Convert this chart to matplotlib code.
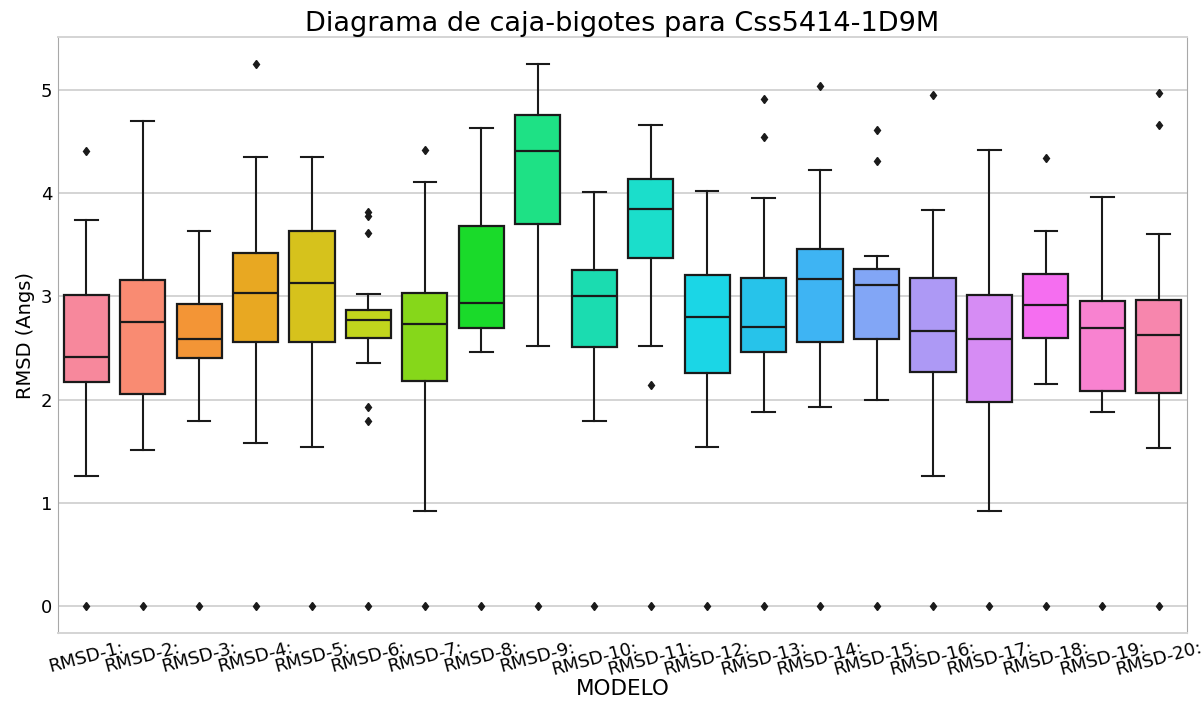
import matplotlib
matplotlib.use("Agg")
import matplotlib.pyplot as plt

labels = [f"RMSD-{i}:" for i in range(1, 21)]

# five-number summaries per model (Angstrom)
whislo = [1.26, 1.51, 1.79, 1.58, 1.54, 2.36, 0.92, 2.46, 2.52, 1.79,
          2.52, 1.54, 1.88, 1.93, 2.00, 1.26, 0.92, 2.15, 1.88, 1.53]
q1 = [2.17, 2.06, 2.40, 2.56, 2.56, 2.60, 2.18, 2.69, 3.70, 2.51,
      3.37, 2.26, 2.46, 2.56, 2.59, 2.27, 1.98, 2.60, 2.08, 2.07]
med = [2.41, 2.75, 2.59, 3.03, 3.13, 2.77, 2.73, 2.94, 4.41, 3.00,
       3.85, 2.80, 2.70, 3.17, 3.11, 2.67, 2.59, 2.92, 2.69, 2.63]
q3 = [3.01, 3.16, 2.93, 3.42, 3.63, 2.87, 3.03, 3.68, 4.76, 3.26,
      4.14, 3.21, 3.18, 3.46, 3.27, 3.18, 3.01, 3.22, 2.96, 2.97]
whishi = [3.74, 4.70, 3.63, 4.35, 4.35, 3.02, 4.11, 4.63, 5.25, 4.01,
          4.66, 4.02, 3.95, 4.22, 3.39, 3.84, 4.42, 3.63, 3.96, 3.60]
fliers = [
    [0.0, 4.41],
    [0.0],
    [0.0],
    [0.0, 5.25],
    [0.0],
    [0.0, 1.79, 1.93, 3.61, 3.78, 3.82],
    [0.0, 4.42],
    [0.0],
    [0.0],
    [0.0],
    [0.0, 2.14],
    [0.0],
    [0.0, 4.54, 4.91],
    [0.0, 5.04],
    [0.0, 4.31, 4.61],
    [0.0, 4.95],
    [0.0],
    [0.0, 4.34],
    [0.0],
    [0.0, 4.66, 4.97],
]

# bright circular palette, one colour per model
colors = ["#f7889c", "#f98b72", "#f39536", "#e8a822", "#d6c21c",
          "#c1d51d", "#86d71a", "#1ada2a", "#1ee185", "#1bdcb0",
          "#1bdecb", "#1bd6e6", "#27c3ea", "#3eb4f3", "#82a6f6",
          "#ad99f5", "#d68cf4", "#f56ef0", "#f882d0", "#f786ad"]

stats = [
    dict(label=lab, whislo=lo, q1=a, med=m, q3=b, whishi=hi, fliers=fl)
    for lab, lo, a, m, b, hi, fl in zip(labels, whislo, q1, med, q3, whishi, fliers)
]

fig = plt.figure(figsize=(12.03, 7.02), dpi=100)
ax = fig.add_axes([0.0482, 0.098, 0.9385, 0.849])

line_c = "#1a1a1a"
bp = ax.bxp(
    stats,
    positions=range(len(labels)),
    widths=0.8,
    patch_artist=True,
    boxprops=dict(edgecolor=line_c, linewidth=1.6),
    medianprops=dict(color=line_c, linewidth=1.6),
    whiskerprops=dict(color=line_c, linewidth=1.5),
    capprops=dict(color=line_c, linewidth=1.5),
    flierprops=dict(marker="d", markersize=4.5, markerfacecolor=line_c,
                    markeredgecolor=line_c, linestyle="none"),
)
for patch, c in zip(bp["boxes"], colors):
    patch.set_facecolor(c)

ax.set_xlim(-0.5, len(labels) - 0.5)
ax.set_ylim(-0.26, 5.51)
ax.set_yticks([0, 1, 2, 3, 4, 5])
ax.set_xticks(range(len(labels)))
ax.set_xticklabels(labels, rotation=15, fontsize=13)
ax.tick_params(axis="y", labelsize=13, length=0, pad=4)
ax.tick_params(axis="x", length=0, pad=4)

ax.yaxis.grid(True, color="#d4d4d4", linewidth=1.4)
ax.set_axisbelow(True)
for side in ["left", "right"]:
    ax.spines[side].set_color("#a8a8a8")
for side in ["top", "bottom"]:
    ax.spines[side].set_color("#d4d4d4")
    ax.spines[side].set_linewidth(1.4)

ax.set_title("Diagrama de caja-bigotes para Css5414-1D9M", fontsize=19.5, pad=4)
ax.set_xlabel("MODELO", fontsize=15.5, labelpad=0)
ax.set_ylabel("RMSD (Angs)", fontsize=14)

fig.savefig("out.png", dpi=100)
